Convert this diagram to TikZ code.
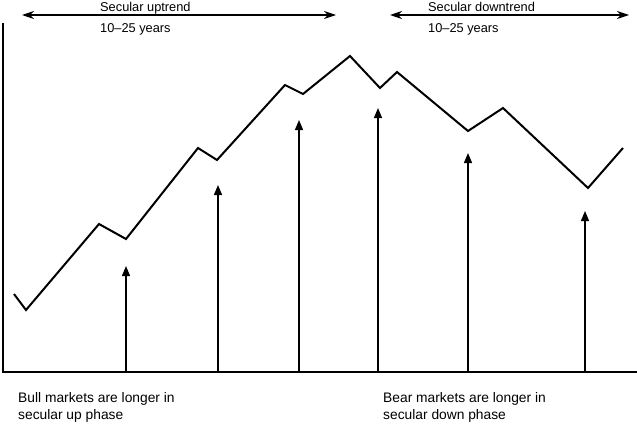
\documentclass[tikz,border=0pt]{standalone}
\usepackage{fontspec}
\setmainfont{Liberation Sans}
\usetikzlibrary{arrows.meta}
\begin{document}
\begin{tikzpicture}[x=1pt,y=-1pt,
  zig/.style={line width=2pt,line join=miter},
  axisline/.style={line width=1.3pt},
  uparrow/.style={line width=1.3pt,-{Triangle[length=10pt,width=8pt]}},
  span/.style={line width=1.2pt,{Stealth[length=12pt,width=8pt]}-{Stealth[length=12pt,width=8pt]}},
  lbl/.style={inner sep=0pt,anchor=base west,font=\fontsize{12.8}{14}\selectfont},
  note/.style={inner sep=0pt,anchor=base west,font=\fontsize{13.8}{15}\selectfont}]
\useasboundingbox (0,0) rectangle (637,423);
% axes
\coordinate (ytop) at (3,23);
\coordinate (orig) at (3,372);
\coordinate (xend) at (637,372);
\draw[axisline] (ytop) -- (orig) -- (xend);
% zigzag
\coordinate (p1) at (14,294);
\coordinate (p2) at (26,310);
\coordinate (p3) at (99,224);
\coordinate (p4) at (126,239);
\coordinate (p5) at (198,148);
\coordinate (p6) at (217,160);
\coordinate (p7) at (285,85);
\coordinate (p8) at (303,94);
\coordinate (p9) at (350,56);
\coordinate (p10) at (380,88);
\coordinate (p11) at (397,72);
\coordinate (p12) at (468,131);
\coordinate (p13) at (503,108);
\coordinate (p14) at (588,188);
\coordinate (p15) at (623,148);
\draw[zig] (p1)--(p2)--(p3)--(p4)--(p5)--(p6)--(p7)--(p8)--(p9)--(p10)--(p11)--(p12)--(p13)--(p14)--(p15);
% vertical arrows
\foreach \n/\x/\t in {a/126/266,b/218/185,c/299/120,d/378/108,e/468/153,f/585/211}{
  \coordinate (\n0) at (\x,372);
  \coordinate (\n1) at (\x,\t);
  \draw[uparrow] (\n0) -- (\n1);
}
% top spans
\coordinate (u0) at (22,15);
\coordinate (u1) at (336,15);
\coordinate (d0) at (390,15);
\coordinate (d1) at (629,15);
\draw[span] (u0) -- (u1);
\draw[span] (d0) -- (d1);
\node[lbl] (ut) at (100,11) {Secular uptrend};
\node[lbl] (uy) at (100,32) {10–25 years};
\node[lbl] (dt) at (428,11) {Secular downtrend};
\node[lbl] (dy) at (428,32) {10–25 years};
% bottom notes
\node[note] (bull1) at (18,402) {Bull markets are longer in};
\node[note] (bull2) at (18,419) {secular up phase};
\node[note] (bear1) at (383,402) {Bear markets are longer in};
\node[note] (bear2) at (383,419) {secular down phase};
\end{tikzpicture}
\end{document}
